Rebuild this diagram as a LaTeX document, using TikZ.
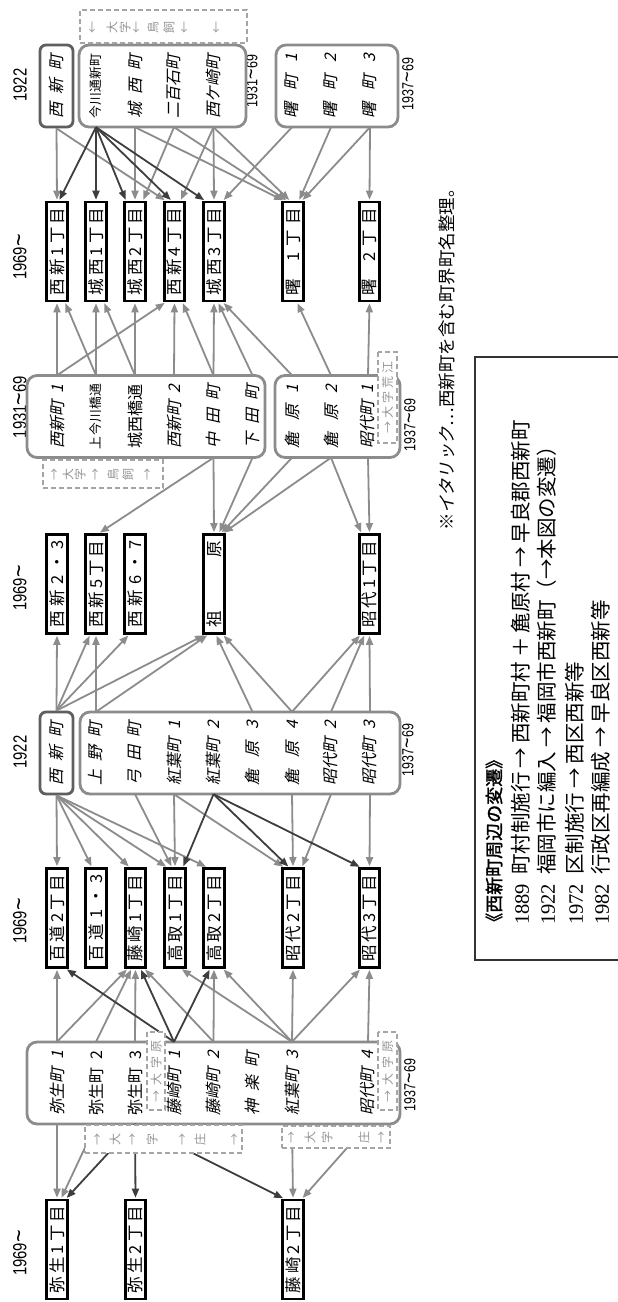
\documentclass[tikz,border=0pt]{standalone}
\usepackage{fontspec}
\usetikzlibrary{arrows.meta}
\newfontfamily\jp{Noto Sans CJK JP}
\newfontfamily\jpit{Noto Sans CJK JP}[FakeSlant=0.22]
\newfontfamily\jpb{Noto Sans CJK JP}[FakeBold=1.6]
\newfontfamily\nm{Liberation Sans}[FakeStretch=0.78]
\newfontfamily\sr{Liberation Serif}
\definecolor{arrgray}{RGB}{140,140,140}
\definecolor{arrdark}{RGB}{62,62,62}
\definecolor{boxgray}{RGB}{140,140,140}
\definecolor{oldcol}{RGB}{95,95,95}
\definecolor{dashgray}{RGB}{165,165,165}
\definecolor{dashtext}{RGB}{150,150,150}
\newcommand\ar[4]{\draw[#1] (#2) -- ([xshift=#4pt]#3);}
\newcommand\tl{\raisebox{-0.5pt}{\scalebox{1.45}[1.3]{\textasciitilde}}}
\begin{document}
\begin{tikzpicture}[x=1pt,y=-1pt,
  newbox/.style={draw=black, line width=2.6pt, fill=white, rotate=90, minimum width=99pt, minimum height=20.5pt, inner sep=0pt, font=\jp\fontsize{16.5}{17}\selectfont},
  oldbox/.style={draw=boxgray, line width=2.8pt, rounded corners=10pt, inner sep=0pt, minimum height=82pt},
  wbox/.style={draw=oldcol, line width=2.8pt, rounded corners=6pt, rotate=90, minimum width=82pt, minimum height=33pt, inner sep=0pt, font=\jpit\fontsize{16}{17}\selectfont},
  lbl/.style={rotate=90, minimum width=82pt, minimum height=16pt, inner sep=0pt, font=\jpit\fontsize{16}{17}\selectfont},
  lblr/.style={lbl, font=\jp\fontsize{16}{17}\selectfont},
  lbls/.style={lbl, font=\jp\fontsize{12.8}{13}\selectfont},
  ga/.style={draw=arrgray, line width=1.8pt, shorten >=1pt, -{Triangle[length=9pt,width=7pt]}},
  da/.style={ga, draw=arrdark},
  dbox/.style={draw=dashgray, line width=1.1pt, dash pattern=on 5pt off 3pt, fill=white, inner sep=0pt},
  dch/.style={rotate=90, text=dashtext, inner sep=0pt, font=\jp\fontsize{12}{12}\selectfont},
  yr/.style={rotate=90, inner sep=0pt, font=\nm\fontsize{19}{19}\selectfont},
  rng/.style={rotate=90, inner sep=0pt, font=\nm\fontsize{16}{16}\selectfont},
  leg/.style={rotate=90, anchor=west, inner sep=0pt, font=\jp\fontsize{20.5}{21}\selectfont}
]
\fill[white] (0,0) rectangle (618,1302);
\useasboundingbox (0,0) rectangle (618,1302);

% ---------- year labels ----------
\node[yr] (y8) at (20,85) {1922};
\node[yr] (y7) at (20,257) {1969\tl};
\node[yr] (y6) at (20,407) {1931\tl 69};
\node[yr] (y5) at (20,588) {1969\tl};
\node[yr] (y4) at (20,752) {1922};
\node[yr] (y3) at (20,921) {1969\tl};
\node[yr] (y1) at (20,1253) {1969\tl};
\node[rng] (r8a) at (252,81) {1931\tl 69};
\node[rng] (r8b) at (408,84) {1937\tl 69};
\node[rng] (r6) at (410,425) {1937\tl 69};
\node[rng] (r4) at (408,750) {1937\tl 69};
\node[rng] (r2) at (410,1085) {1937\tl 69};

% ---------- column 8 (1922 / 1931~69 / 1937~69) ----------
\node[wbox] (W8) at (56.5,86) {\makebox[64pt][s]{西\hfil 新\hfil 町}};
\node[oldbox, minimum width=167pt] (B8b) at (162.5,86) {};
\node[oldbox, minimum width=122pt] (B8c) at (337,86) {};
\node[lbls] (c8s1) at (96,86) {\makebox[65pt][s]{今\hfil 川\hfil 通\hfil 新\hfil 町}};
\node[lbl] (c8s2) at (135,86) {\makebox[64pt][s]{城\hfil 西\hfil 町}};
\node[lbl] (c8s3) at (174,86) {\makebox[64pt][s]{二\hfil 百\hfil 石\hfil 町}};
\node[lbl] (c8s4) at (213.5,86) {\makebox[64pt][s]{西\hfil ケ\hfil 崎\hfil 町}};
\node[lbl] (c8s6) at (292,86) {\makebox[64pt][s]{曙\hfil 町\hfil 1}};
\node[lbl] (c8s7) at (331,86) {\makebox[64pt][s]{曙\hfil 町\hfil 2}};
\node[lbl] (c8s8) at (370,86) {\makebox[64pt][s]{曙\hfil 町\hfil 3}};

% ---------- column 7 (1969~) ----------
\node[newbox] (n7s0) at (57,251.5) {\makebox[87pt][s]{西\hfil 新\hfil 1\hfil 丁\hfil 目}};
\node[newbox] (n7s1) at (96,251.5) {\makebox[87pt][s]{城\hfil 西\hfil 1\hfil 丁\hfil 目}};
\node[newbox] (n7s2) at (135,251.5) {\makebox[87pt][s]{城\hfil 西\hfil 2\hfil 丁\hfil 目}};
\node[newbox] (n7s3) at (174.5,251.5) {\makebox[87pt][s]{西\hfil 新\hfil 4\hfil 丁\hfil 目}};
\node[newbox] (n7s4) at (214,251.5) {\makebox[87pt][s]{城\hfil 西\hfil 3\hfil 丁\hfil 目}};
\node[newbox] (n7s6) at (293,251.5) {\makebox[87pt][s]{曙\hfil\hfil\hfil 1\hfil 丁\hfil 目}};
\node[newbox] (n7s8) at (369.5,251.5) {\makebox[87pt][s]{曙\hfil\hfil\hfil 2\hfil 丁\hfil 目}};

% ---------- column 6 (1931~69 / 1937~69) ----------
\node[oldbox, minimum width=238pt] (B6a) at (146,416.5) {};
\node[oldbox, minimum width=125pt] (B6b) at (337.5,416.5) {};
\node[lbl] (c6s0) at (57,416.5) {\makebox[64pt][s]{西新町\hfil 1}};
\node[lbls] (c6s1) at (96,416.5) {\makebox[65pt][s]{上\hfil 今\hfil 川\hfil 橋\hfil 通}};
\node[lblr] (c6s2) at (135,416.5) {\makebox[64pt][s]{城\hfil 西\hfil 橋\hfil 通}};
\node[lbl] (c6s3) at (174,416.5) {\makebox[64pt][s]{西新町\hfil 2}};
\node[lbl] (c6s4) at (213.5,416.5) {\makebox[64pt][s]{中\hfil 田\hfil 町}};
\node[lbl] (c6s5) at (252.5,416.5) {\makebox[64pt][s]{下\hfil 田\hfil 町}};
\node[lbl] (c6s6) at (292,416.5) {\makebox[64pt][s]{麁\hfil 原\hfil 1}};
\node[lbl] (c6s7) at (331,416.5) {\makebox[64pt][s]{麁\hfil 原\hfil 2}};
\node[lbl] (c6s8) at (368,416.5) {\makebox[64pt][s]{昭代町\hfil 1}};

% ---------- column 5 (1969~) ----------
\node[newbox] (n5s0) at (57,584) {\makebox[87pt][s]{西\hfil 新\hfil 2\hfil ・\hfil 3}};
\node[newbox] (n5s1) at (96,584) {\makebox[87pt][s]{西\hfil 新\hfil 5\hfil 丁\hfil 目}};
\node[newbox] (n5s2) at (135,584) {\makebox[87pt][s]{西\hfil 新\hfil 6\hfil ・\hfil 7}};
\node[newbox] (n5s4) at (214,584) {\makebox[87pt][s]{祖\hfil 原}};
\node[newbox] (n5s8) at (369.5,584) {\makebox[87pt][s]{昭\hfil 代\hfil 1\hfil 丁\hfil 目}};

% ---------- column 4 (1922 / 1937~69) ----------
\node[wbox] (W4) at (56.5,753) {\makebox[64pt][s]{西\hfil 新\hfil 町}};
\node[oldbox, minimum width=320pt] (B4) at (240,753) {};
\node[lbl] (c4s1) at (96,753) {\makebox[64pt][s]{上\hfil 野\hfil 町}};
\node[lbl] (c4s2) at (135,753) {\makebox[64pt][s]{弓\hfil 田\hfil 町}};
\node[lbl] (c4s3) at (174,753) {\makebox[64pt][s]{紅葉町\hfil 1}};
\node[lbl] (c4s4) at (213.5,753) {\makebox[64pt][s]{紅葉町\hfil 2}};
\node[lbl] (c4s5) at (252.5,753) {\makebox[64pt][s]{麁\hfil 原\hfil 3}};
\node[lbl] (c4s6) at (292,753) {\makebox[64pt][s]{麁\hfil 原\hfil 4}};
\node[lbl] (c4s7) at (331,753) {\makebox[64pt][s]{昭代町\hfil 2}};
\node[lbl] (c4s8) at (370,753) {\makebox[64pt][s]{昭代町\hfil 3}};

% ---------- column 3 (1969~) ----------
\node[newbox] (n3s0) at (57,918) {\makebox[87pt][s]{百\hfil 道\hfil 2\hfil 丁\hfil 目}};
\node[newbox] (n3s1) at (96,918) {\makebox[87pt][s]{百\hfil 道\hfil 1\hfil ・\hfil 3}};
\node[newbox] (n3s2) at (135.5,918) {\makebox[87pt][s]{藤\hfil 崎\hfil 1\hfil 丁\hfil 目}};
\node[newbox] (n3s3) at (175,918) {\makebox[87pt][s]{高\hfil 取\hfil 1\hfil 丁\hfil 目}};
\node[newbox] (n3s4) at (214,918) {\makebox[87pt][s]{高\hfil 取\hfil 2\hfil 丁\hfil 目}};
\node[newbox] (n3s6) at (293,918) {\makebox[87pt][s]{昭\hfil 代\hfil 2\hfil 丁\hfil 目}};
\node[newbox] (n3s8) at (369.5,918) {\makebox[87pt][s]{昭\hfil 代\hfil 3\hfil 丁\hfil 目}};

% ---------- column 2 (1937~69) ----------
\node[oldbox, minimum width=373pt] (B2) at (213.5,1083) {};
\node[lbl] (c2s0) at (57,1083) {\makebox[64pt][s]{弥生町\hfil 1}};
\node[lblr] (c2s1) at (96,1083) {\makebox[64pt][s]{弥生町\hfil 2}};
\node[lblr] (c2s2) at (135,1083) {\makebox[64pt][s]{弥生町\hfil 3}};
\node[lbl] (c2s3) at (174,1083) {\makebox[64pt][s]{藤崎町\hfil 1}};
\node[lbl] (c2s4) at (213.5,1083) {\makebox[64pt][s]{藤崎町\hfil 2}};
\node[lbl] (c2s5) at (252.5,1083) {\makebox[64pt][s]{神\hfil 楽\hfil 町}};
\node[lbl] (c2s6) at (292,1083) {\makebox[64pt][s]{紅葉町\hfil 3}};
\node[lbl] (c2s8) at (368,1083) {\makebox[64pt][s]{昭代町\hfil 4}};

% ---------- column 1 (1969~) ----------
\node[newbox] (n1s0) at (57,1249.5) {\makebox[87pt][s]{弥\hfil 生\hfil 1\hfil 丁\hfil 目}};
\node[newbox] (n1s2) at (135.5,1249.5) {\makebox[87pt][s]{弥\hfil 生\hfil 2\hfil 丁\hfil 目}};
\node[newbox] (n1s6) at (293,1249.5) {\makebox[87pt][s]{藤\hfil 崎\hfil 2\hfil 丁\hfil 目}};

% ---------- arrows: gray ----------
% col8 -> col7
\ar{ga}{W8.west}{n7s0.east}{0}
\ar{ga}{W8.west}{n7s3.east}{-9}
\ar{ga}{c8s2.west}{n7s2.east}{0}
\ar{ga}{c8s2.west}{n7s6.east}{-9}
\ar{ga}{c8s3.west}{n7s2.east}{8}
\ar{ga}{c8s3.west}{n7s6.east}{-6}
\ar{ga}{c8s4.west}{n7s3.east}{6}
\ar{ga}{c8s4.west}{n7s4.east}{0}
\ar{ga}{c8s4.west}{n7s6.east}{-3}
\ar{ga}{c8s6.west}{n7s4.east}{9}
\ar{ga}{c8s7.west}{n7s6.east}{6}
\ar{ga}{c8s8.west}{n7s6.east}{9}
\ar{ga}{c8s8.west}{n7s8.east}{0}
% col6 -> col7
\ar{ga}{c6s0.east}{n7s0.west}{0}
\ar{ga}{c6s0.east}{n7s3.west}{-9}
\ar{ga}{c6s1.east}{n7s0.west}{8}
\ar{ga}{c6s1.east}{n7s1.west}{0}
\ar{ga}{c6s2.east}{n7s1.west}{8}
\ar{ga}{c6s2.east}{n7s2.west}{0}
\ar{ga}{c6s3.east}{n7s3.west}{0}
\ar{ga}{c6s4.east}{n7s3.west}{8}
\ar{ga}{c6s4.east}{n7s4.west}{0}
\ar{ga}{c6s5.east}{n7s4.west}{4}
\ar{ga}{c6s6.east}{n7s4.west}{9}
\ar{ga}{c6s7.east}{n7s6.west}{4}
\ar{ga}{c6s8.east}{n7s8.west}{0}
% col6 -> col5
\ar{ga}{c6s4.west}{n5s1.east}{3}
\ar{ga}{c6s4.west}{n5s4.east}{0}
\ar{ga}{c6s5.west}{n5s4.east}{5}
\ar{ga}{c6s6.west}{n5s4.east}{7}
\ar{ga}{c6s7.west}{n5s4.east}{9}
\ar{ga}{c6s7.west}{n5s8.east}{-8}
\ar{ga}{c6s8.west}{n5s8.east}{0}
% col4 -> col5
\ar{ga}{W4.east}{n5s0.west}{0}
\ar{ga}{W4.east}{n5s1.west}{-6}
\ar{ga}{W4.east}{n5s2.west}{-6}
\ar{ga}{W4.east}{n5s4.west}{-9}
\ar{ga}{c4s1.east}{n5s1.west}{0}
\ar{ga}{c4s1.east}{n5s4.west}{-6}
\ar{ga}{c4s5.east}{n5s4.west}{2}
\ar{ga}{c4s6.east}{n5s4.west}{9}
\ar{ga}{c4s6.east}{n5s8.west}{-9}
\ar{ga}{c4s7.east}{n5s8.west}{-5}
\ar{ga}{c4s8.east}{n5s8.west}{0}
% col4 -> col3
\ar{ga}{W4.west}{n3s0.east}{0}
\ar{ga}{W4.west}{n3s1.east}{-4}
\ar{ga}{W4.west}{n3s2.east}{-6}
\ar{ga}{W4.west}{n3s3.east}{-8}
\ar{ga}{W4.west}{n3s4.east}{-7}
\ar{ga}{c4s2.west}{n3s3.east}{-3}
\ar{ga}{c4s3.west}{n3s3.east}{0}
\ar{ga}{c4s3.west}{n3s6.east}{-9}
\ar{ga}{c4s6.west}{n3s6.east}{0}
\ar{ga}{c4s7.west}{n3s6.east}{9}
\ar{ga}{c4s8.west}{n3s8.east}{0}
% col2 -> col3
\ar{ga}{c2s0.east}{n3s0.west}{0}
\ar{ga}{c2s0.east}{n3s2.west}{-8}
\ar{ga}{c2s1.east}{n3s2.west}{-4}
\ar{ga}{c2s2.east}{n3s2.west}{0}
\ar{ga}{c2s4.east}{n3s2.west}{9}
\ar{ga}{c2s4.east}{n3s4.west}{0}
\ar{ga}{c2s6.east}{n3s3.west}{6}
\ar{ga}{c2s6.east}{n3s4.west}{9}
\ar{ga}{c2s6.east}{n3s6.west}{0}
\ar{ga}{c2s6.east}{n3s8.west}{-9}
\ar{ga}{c2s8.east}{n3s8.west}{0}
% col2 -> col1
\ar{ga}{c2s0.west}{n1s0.east}{0}
\ar{ga}{c2s1.west}{n1s0.east}{4}
\ar{ga}{c2s6.west}{n1s6.east}{0}
\ar{ga}{c2s8.west}{n1s6.east}{9}

% ---------- arrows: dark ----------
\ar{da}{c8s1.west}{n7s0.east}{2}
\ar{da}{c8s1.west}{n7s1.east}{0}
\ar{da}{c8s1.west}{n7s2.east}{-9}
\ar{da}{c8s1.west}{n7s3.east}{-3}
\ar{da}{c8s1.west}{n7s4.east}{-9}
\ar{da}{c4s4.west}{n3s3.east}{8}
\ar{da}{c4s4.west}{n3s6.east}{-4}
\ar{da}{c4s4.west}{n3s8.east}{-9}
\ar{da}{c2s3.east}{n3s0.west}{9}
\ar{da}{c2s3.east}{n3s2.west}{5}
\ar{da}{c2s3.east}{n3s4.west}{-4}
\ar{da}{c2s2.west}{n1s0.east}{9}
\ar{da}{c2s2.west}{n1s2.east}{0}
\ar{da}{c2s2.west}{n1s6.east}{-9}

% ---------- dashed boxes ----------
\node[dbox, minimum width=167pt, minimum height=33pt] (dA) at (163.5,26.5) {};
\foreach \xx/\cc [count=\i] in {93/←,112/大,125/字,137/←,153/鳥,169/飼,185/←,217/←}
  \node[dch] (dAt\i) at (\xx,27) {\cc};
\node[dbox, minimum width=120pt, minimum height=28pt] (dB) at (103,474) {};
\foreach \xx/\cc [count=\i] in {55/→,68/大,80/字,96/→,113/鳥,128/飼,148/→}
  \node[dch] (dBt\i) at (\xx,474) {\cc};
\node[dbox, minimum width=157pt, minimum height=28pt] (dC) at (163.5,1139) {};
\foreach \xx/\cc [count=\i] in {98/→,115/大,133/→,152/字,183/→,200/庄,235/→}
  \node[dch] (dCt\i) at (\xx,1139) {\cc};
\node[dbox, minimum width=108pt, minimum height=22pt] (dD) at (336,1137) {};
\foreach \xx/\cc [count=\i] in {292/→,310/大,327/字,364/庄,382/→}
  \node[dch] (dDt\i) at (\xx,1137) {\cc};
\node[dbox, dch, minimum width=78pt, minimum height=18pt] (dE) at (156,1071) {\makebox[62pt][s]{→\hfil 大\hfil 字\hfil 原}};
\node[dbox, dch, minimum width=78pt, minimum height=19pt] (dF) at (387.5,1071) {\makebox[62pt][s]{→\hfil 大\hfil 字\hfil 原}};
\node[dbox, dch, minimum width=91pt, minimum height=19pt] (dG) at (387.5,397.5) {\makebox[72pt][s]{→\hfil 大\hfil 字\hfil 荒\hfil 江}};

% ---------- note ----------
\node[rotate=90, anchor=west, inner sep=0pt, font=\jp\fontsize{17.5}{18}\selectfont] (note) at (447,531) {※{\jpit イタリック}…西新町を含む町界町名整理。};

% ---------- legend ----------
\coordinate (lgA) at (618,357);
\coordinate (lgB) at (475,357);
\coordinate (lgC) at (475,960);
\coordinate (lgD) at (618,960);
\draw[line width=1.1pt, draw=black!80] (lgA) -- (lgB) -- (lgC) -- (lgD);
\node[rotate=90, anchor=west, inner sep=0pt, font=\jpb\fontsize{18}{18}\selectfont] (lgt) at (494,931) {《西新町周辺の変遷》};
\node[leg] (lg1) at (521,925) {{\sr 1889}\hspace{9pt}町村制施行\hspace{4pt}→\hspace{4pt}西新町村\hspace{4pt}＋\hspace{4pt}麁原村\hspace{4pt}→\hspace{4pt}早良郡西新町};
\node[leg] (lg2) at (547,925) {{\sr 1922}\hspace{9pt}福岡市に編入\hspace{4pt}→\hspace{4pt}福岡市西新町（→本図の変遷）};
\node[leg] (lg3) at (575,925) {{\sr 1972}\hspace{9pt}区制施行\hspace{4pt}→\hspace{4pt}西区西新等};
\node[leg] (lg4) at (601,925) {{\sr 1982}\hspace{9pt}行政区再編成\hspace{4pt}→\hspace{4pt}早良区西新等};
\end{tikzpicture}
\end{document}
